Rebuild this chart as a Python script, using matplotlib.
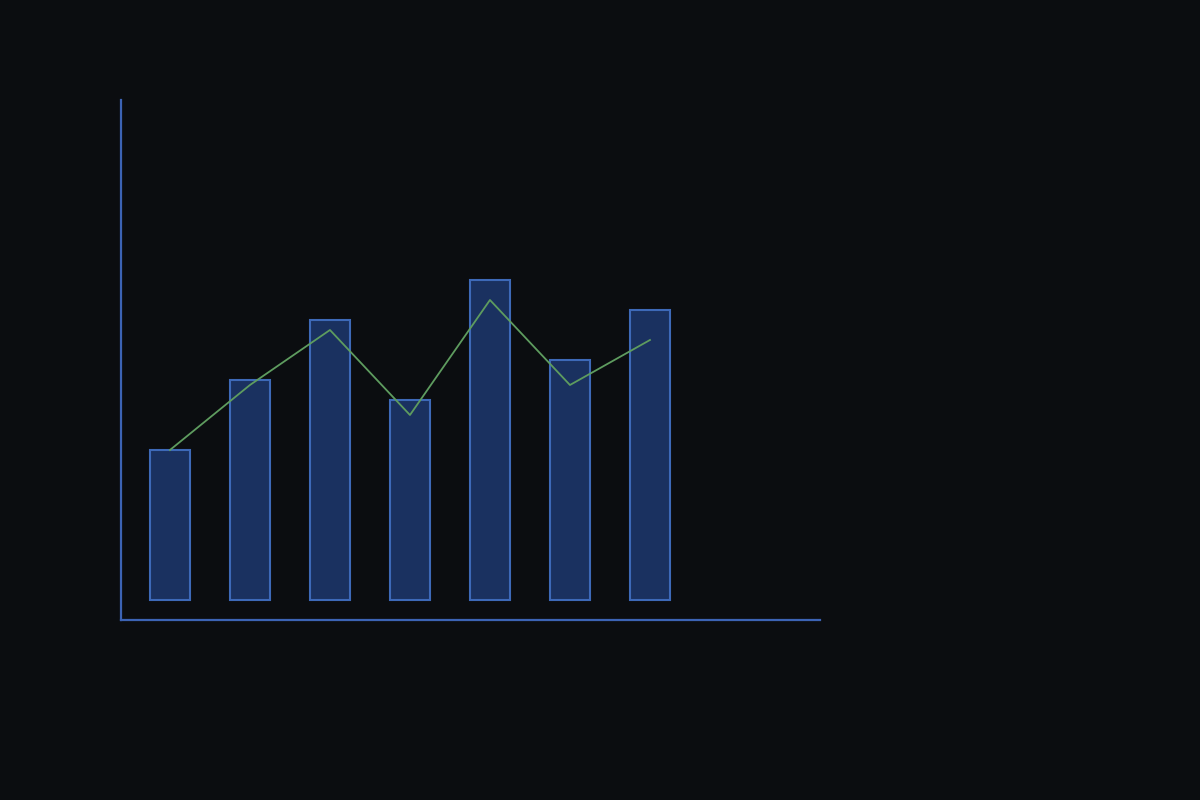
import matplotlib
matplotlib.use("Agg")
import matplotlib.pyplot as plt

# values
categories = [0, 1, 2, 3, 4, 5, 6]
bar_values = [15, 22, 28, 20, 32, 24, 29]
line_values = [15, 21.5, 27, 18.5, 30, 21.5, 26]

bg = "#0b0d10"
bar_fill = "#1a3160"
bar_edge = "#3d69b8"
spine_col = "#3c63b4"
line_col = "#5e9c5f"

fig = plt.figure(figsize=(12, 8), dpi=100, facecolor=bg)
ax = fig.add_axes([0.1008, 0.225, 0.5825, 0.65])
ax.set_facecolor(bg)

ax.bar(categories, bar_values, width=0.5, color=bar_fill,
       edgecolor=bar_edge, linewidth=1.5)
ax.plot(categories, line_values, color=line_col, linewidth=1.3)

ax.set_xlim(-0.6125, 8.125)
ax.set_ylim(-2, 50)

for side in ["top", "right"]:
    ax.spines[side].set_visible(False)
for side in ["left", "bottom"]:
    ax.spines[side].set_color(spine_col)
    ax.spines[side].set_linewidth(1.6)
ax.set_xticks([])
ax.set_yticks([])

fig.savefig("out.png", dpi=100, facecolor=bg)
